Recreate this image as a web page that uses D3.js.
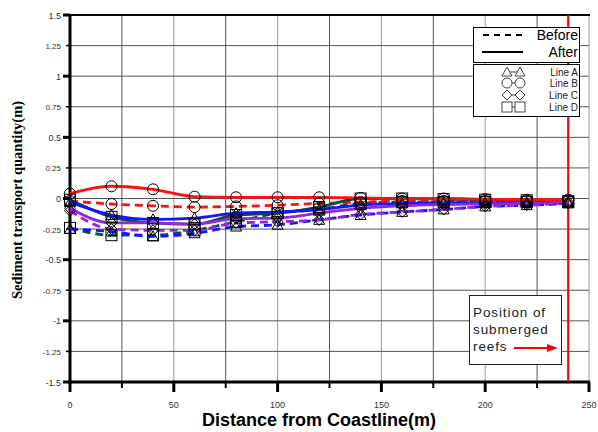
<!DOCTYPE html>
<html><head><meta charset="utf-8">
<script src="https://cdn.jsdelivr.net/npm/d3@7"></script>
<style>body{margin:0;background:#fff}svg{display:block}</style>
</head><body><svg id="c" width="598" height="432"></svg>
<script>
const distances = [0,20,40,60,80,100,120,140,160,180,200,220,240];
const lineA_before = [-0.25,-0.27,-0.31,-0.285,-0.23,-0.215,-0.175,-0.135,-0.11,-0.09,-0.065,-0.055,-0.04];
const lineA_after  = [-0.03,-0.135,-0.17,-0.16,-0.12,-0.11,-0.09,-0.055,-0.04,-0.035,-0.035,-0.035,-0.035];
const lineB_before = [-0.02,-0.045,-0.06,-0.07,-0.065,-0.055,-0.04,-0.03,-0.02,-0.02,-0.02,-0.02,-0.02];
const lineB_after  = [0.04,0.1,0.075,0.015,0.01,0.01,0.01,0.005,0,0,-0.005,-0.01,-0.01];
const lineC_before = [-0.1,-0.25,-0.26,-0.26,-0.2,-0.19,-0.175,-0.13,-0.11,-0.09,-0.065,-0.055,-0.04];
const lineC_after  = [-0.08,-0.2,-0.2,-0.21,-0.165,-0.16,-0.12,-0.08,-0.06,-0.05,-0.045,-0.04,-0.03];
const lineD_before = [-0.24,-0.3,-0.3,-0.26,-0.19,-0.12,-0.09,-0.04,-0.03,-0.03,-0.03,-0.03,-0.03];
const lineD_after  = [-0.01,-0.15,-0.2,-0.21,-0.135,-0.12,-0.07,0,0,-0.005,-0.01,-0.015,-0.02];
const xTicks = [0,50,100,150,200,250];
const yTicks = [1.5,1.25,1,0.75,0.5,0.25,0,-0.25,-0.5,-0.75,-1,-1.25,-1.5];
const reefPosition = 240;

const series = [
  {name:"Line D", color:"#0e4a44", marker:"square", before:lineD_before, after:lineD_after},
  {name:"Line A", color:"#1414ff", marker:"triangle", before:lineA_before, after:lineA_after},
  {name:"Line C", color:"#9326d6", marker:"diamond", before:lineC_before, after:lineC_after},
  {name:"Line B", color:"#ff1010", marker:"circle", before:lineB_before, after:lineB_after}
];

const svg = d3.select("#c");
const L=70, R=589, T=15, B=382;
const x = d3.scaleLinear().domain([0,250]).range([L,R]);
const y = d3.scaleLinear().domain([-1.5,1.5]).range([B,T]);

// grid
const g = svg.append("g");
d3.range(0,251,25).forEach(v=>{
  g.append("line").attr("x1",x(v)).attr("x2",x(v)).attr("y1",T).attr("y2",B)
   .attr("stroke", v%50===0 ? "#9a9a9a" : "#555").attr("stroke-width",1);
});
d3.range(-1.5,1.51,0.25).forEach(v=>{
  g.append("line").attr("x1",L).attr("x2",R).attr("y1",y(v)).attr("y2",y(v))
   .attr("stroke", "#555").attr("stroke-width",1);
});

// axes
const xAxis = d3.axisBottom(x).tickValues(d3.range(0,251,25)).tickSize(0).tickFormat("");
svg.append("g").attr("transform",`translate(0,${B})`).call(xAxis).call(a=>a.select(".domain").remove());
d3.range(0,251,25).forEach(v=>{
  const major = v%50===0;
  svg.append("line").attr("x1",x(v)).attr("x2",x(v)).attr("y1",B).attr("y2",B+(major?10:6))
    .attr("stroke","#000").attr("stroke-width",major?3:2);
});
svg.append("g").selectAll("text").data(xTicks).join("text")
  .attr("x",d=>x(d)).attr("y",408).attr("text-anchor","middle")
  .attr("font-family","Liberation Sans, Arial, sans-serif").attr("font-size",9).attr("fill","#333").text(d=>d);

yTicks.forEach(v=>{
  const major = Math.abs(v*2-Math.round(v*2))<1e-6;
  svg.append("line").attr("x1",L-(major?7:4)).attr("x2",L).attr("y1",y(v)).attr("y2",y(v))
    .attr("stroke","#000").attr("stroke-width",major?3:1.5);
  svg.append("text").attr("x",L-9).attr("y",y(v)+3.5).attr("text-anchor","end")
    .attr("font-family","Liberation Sans, Arial, sans-serif").attr("font-size",major?9:8).attr("fill","#333")
    .text(v);
});
svg.append("line").attr("x1",L).attr("x2",L).attr("y1",T-1).attr("y2",B+2).attr("stroke","#000").attr("stroke-width",3);
svg.append("line").attr("x1",L-2).attr("x2",R+1).attr("y1",B).attr("y2",B).attr("stroke","#000").attr("stroke-width",3);
svg.append("line").attr("x1",L).attr("x2",R+1).attr("y1",T).attr("y2",T).attr("stroke","#000").attr("stroke-width",2);

// reef line
svg.append("line").attr("x1",x(reefPosition)).attr("x2",x(reefPosition)).attr("y1",T).attr("y2",B)
  .attr("stroke","#ff0000").attr("stroke-width",2.2);

// lines
const line = d3.line().x(d=>x(d[0])).y(d=>y(d[1])).curve(d3.curveMonotoneX);
const lg = svg.append("g");
series.forEach(s=>{
  lg.append("path").datum(distances.map((d,i)=>[d,s.before[i]])).attr("d",line)
    .attr("fill","none").attr("stroke",s.color).attr("stroke-width",2.8).attr("stroke-dasharray","8,5");
});
series.forEach(s=>{
  lg.append("path").datum(distances.map((d,i)=>[d,s.after[i]])).attr("d",line)
    .attr("fill","none").attr("stroke",s.color).attr("stroke-width",2.8);
});

function marker(sel, type, cx, cy, r){
  r = r || 5.5;
  if(type==="circle") sel.append("circle").attr("cx",cx).attr("cy",cy).attr("r",r);
  else if(type==="square") sel.append("rect").attr("x",cx-r).attr("y",cy-r).attr("width",2*r).attr("height",2*r);
  else if(type==="triangle") sel.append("path").attr("d",`M${cx},${cy-r} L${cx+r},${cy+r*0.8} L${cx-r},${cy+r*0.8} Z`);
  else sel.append("path").attr("d",`M${cx},${cy-r} L${cx+r},${cy} L${cx},${cy+r} L${cx-r},${cy} Z`);
}
const mg = svg.append("g").attr("fill","none").attr("stroke","#000").attr("stroke-width",1);
series.forEach(s=>{
  distances.forEach((d,i)=>{
    marker(mg, s.marker, x(d), y(s.before[i]));
    marker(mg, s.marker, x(d), y(s.after[i]));
  });
});

// legend 1
const font = "Liberation Sans, Arial, sans-serif";
svg.append("rect").attr("x",473.5).attr("y",27.5).attr("width",106).attr("height",35).attr("fill","#fff").attr("stroke","#000");
svg.append("line").attr("x1",483).attr("x2",522).attr("y1",35).attr("y2",35).attr("stroke","#000").attr("stroke-width",2).attr("stroke-dasharray","6,5");
svg.append("line").attr("x1",482).attr("x2",523).attr("y1",52).attr("y2",52).attr("stroke","#000").attr("stroke-width",2);
svg.append("text").attr("x",578).attr("y",40).attr("text-anchor","end").attr("font-family",font).attr("font-size",14).text("Before");
svg.append("text").attr("x",578).attr("y",57).attr("text-anchor","end").attr("font-family",font).attr("font-size",14).text("After");
// legend 2
svg.append("rect").attr("x",473.5).attr("y",64.5).attr("width",106).attr("height",52).attr("fill","#fff").attr("stroke","#000");
const legOrder = [["triangle","Line A",72],["circle","Line B",83],["diamond","Line C",95],["square","Line D",107]];
const lg2 = svg.append("g");
legOrder.forEach(([m,name,yy])=>{
  lg2.append("line").attr("x1",507).attr("x2",520).attr("y1",yy).attr("y2",yy).attr("stroke","#444");
  const mm = lg2.append("g").attr("fill","#fff").attr("stroke","#444");
  marker(mm,m,507,yy,5); marker(mm,m,520,yy,5);
  lg2.append("text").attr("x",578).attr("y",yy+3.5).attr("text-anchor","end").attr("font-family",font).attr("font-size",10).attr("fill","#222").text(name);
});

// reef annotation
svg.append("rect").attr("x",469.5).attr("y",295.5).attr("width",92).attr("height",69).attr("fill","#fff").attr("stroke","#222");
["Position of","submerged","reefs"].forEach((t,i)=>{
  svg.append("text").attr("x",473).attr("y",317+i*17).attr("font-family",font).attr("font-size",13.5)
    .attr("letter-spacing",0.9).attr("fill","#222").text(t);
});
svg.append("line").attr("x1",514).attr("x2",550).attr("y1",348).attr("y2",348).attr("stroke","#ff0000").attr("stroke-width",2);
svg.append("path").attr("d","M547,344 L558,348 L547,352 Z").attr("fill","#ff0000");

// titles
svg.append("text").attr("x",319).attr("y",426).attr("text-anchor","middle").attr("font-family",font)
  .attr("font-weight","bold").attr("font-size",18).text("Distance from Coastline(m)");
svg.append("text").attr("transform","translate(22,200) rotate(-90)").attr("text-anchor","middle")
  .attr("font-family","Liberation Serif, Times New Roman, serif").attr("font-weight","bold").attr("font-size",14.5)
  .text("Sediment transport quantity(m)");
</script></body></html>
